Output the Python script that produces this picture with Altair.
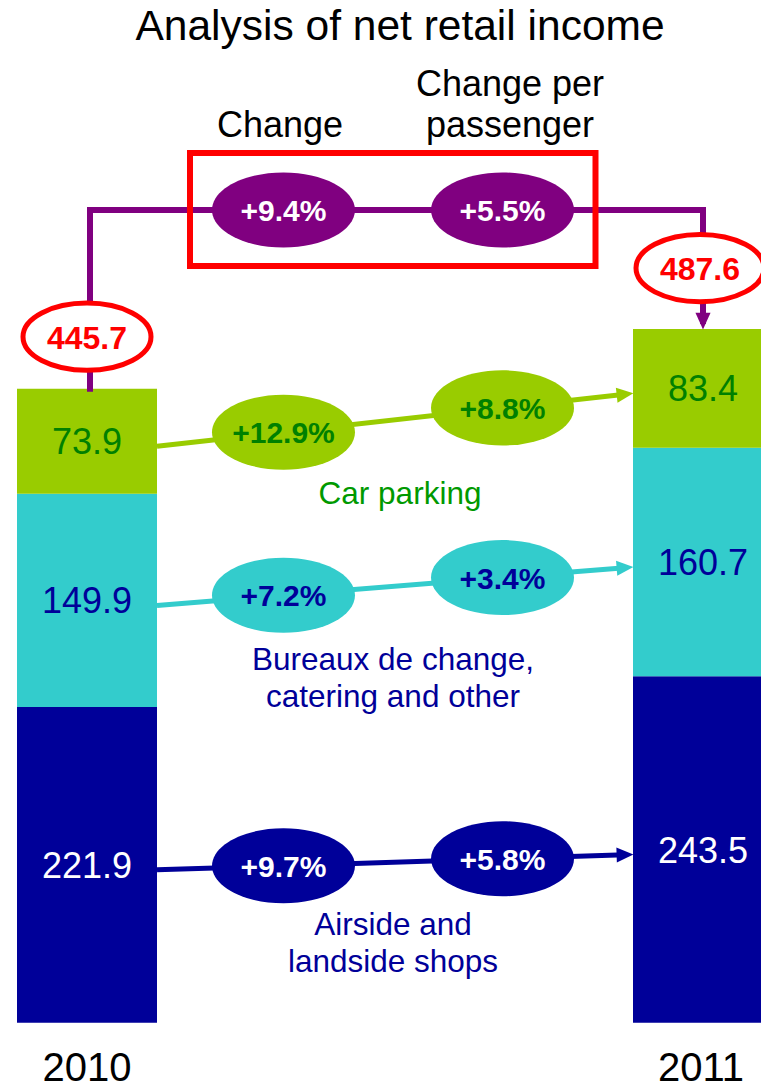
import math
import altair as alt
import pandas as pd

# ------------------------------------------------------------------ data
years = ["2010", "2011"]
categories = ["Airside and landside shops",
              "Bureaux de change, catering and other",
              "Car parking"]
values_2010 = [221.9, 149.9, 73.9]
values_2011 = [243.5, 160.7, 83.4]
totals = [445.7, 487.6]
change_pct = ["+9.7%", "+7.2%", "+12.9%"]
per_passenger_pct = ["+5.8%", "+3.4%", "+8.8%"]
total_change_pct = "+9.4%"
total_per_passenger_pct = "+5.5%"
category_label_lines = [["Airside and", "landside shops"],
                        ["Bureaux de change,", "catering and other"],
                        ["Car parking"]]
title_text = "Analysis of net retail income"
header_change = ["Change"]
header_per_passenger = ["Change per", "passenger"]

# ------------------------------------------------------------------ styles
fill_colors = ["#000099", "#33CCCC", "#99CC00"]
value_text_colors = ["#FFFFFF", "#000099", "#008000"]
ellipse_text_colors = ["#FFFFFF", "#000099", "#008000"]
label_colors = ["#000099", "#000099", "#009900"]
PURPLE = "#800080"
RED = "#FF0000"
FONT = "Liberation Sans"
ELLIPSE = "M-1,0A1,0.525,0,1,1,1,0A1,0.525,0,1,1,-1,0Z"
ARROW = "M-1,-0.9L1,0L-1,0.9Z"

# ------------------------------------------------------------------ layout (page pixels)
W, H = 753, 1075
K = 1.4225            # px per unit of income
ZERO_Y = 1022.7       # page y of value 0
BAR_CENTER = {"2010": 87, "2011": 703}
BAR_HALF = 70
CONNECT_X = [90, 703]
ELLIPSE_X = [283.5, 502.5]
ELL_W = 143
TOT_W = 128
ARROW_LEN = 16
TOP_LINE_Y = 210
LINE_DROP_PX = 5
TOTAL_OFFSET_PX = [52, 61]
TOTAL_X = [87, 700]
LABEL_X = [393, 393, 400]
LABEL_BASE = [[935, 972], [670, 707], [504]]
YEAR_BASE = 1081
YEAR_X = [87, 701]


def v(py):
    """page y -> value units"""
    return (ZERO_Y - py) / K


XS = alt.Scale(domain=[8, 8 + W], nice=False, zero=False)
YS = alt.Scale(domain=[v(8 + H), v(8)], nice=False, zero=False)


def X(f="x"):
    return alt.X(f"{f}:Q", scale=XS, axis=None)


def Y(f="y"):
    return alt.Y(f"{f}:Q", scale=YS, axis=None)


# ------------------------------------------------------------------ bars
series = {"2010": values_2010, "2011": values_2011}
bar_rows, val_rows = [], []
for yr in years:
    lo = 0.0
    for i, cat in enumerate(categories):
        hi = lo + series[yr][i]
        c = BAR_CENTER[yr]
        bar_rows.append(dict(year=yr, category=cat, y=lo, y2=hi,
                             x=c - BAR_HALF, x2=c + BAR_HALF))
        val_rows.append(dict(x=c, y=(lo + hi) / 2, text=f"{series[yr][i]:.1f}",
                             color=value_text_colors[i]))
        lo = hi
bars_df = pd.DataFrame(bar_rows)
vals_df = pd.DataFrame(val_rows)

bars = alt.Chart(bars_df).mark_rect(clip=True).encode(
    x=X(), x2="x2:Q", y=Y(), y2="y2:Q",
    color=alt.Color("category:N", scale=alt.Scale(domain=categories, range=fill_colors), legend=None),
)
vals = alt.Chart(vals_df).mark_text(font=FONT, fontSize=36, baseline="middle", dy=2).encode(
    x=X(), y=Y(), text="text:N", color=alt.Color("color:N", scale=None),
)

# ------------------------------------------------------------------ connecting arrows per category
line_rows, arrow_rows, ell_rows = [], [], []
start_x = BAR_CENTER["2010"] + BAR_HALF
tip_x = BAR_CENTER["2011"] - BAR_HALF
mids10 = [r["y"] for r in val_rows[:3]]
mids11 = [r["y"] for r in val_rows[3:]]
for i, cat in enumerate(categories):
    ys = mids10[i] - LINE_DROP_PX / K
    ye = mids11[i] - LINE_DROP_PX / K
    dx = tip_x - start_x
    dy_px = -(ye - ys) * K
    a = math.atan2(dy_px, dx)
    cx = tip_x - ARROW_LEN / 2 * math.cos(a)
    cy = ye + ARROW_LEN / 2 * math.sin(a) / K
    line_rows.append(dict(x=start_x, y=ys, x2=cx, y2=cy, color=fill_colors[i]))
    arrow_rows.append(dict(x=cx, y=cy, angle=math.degrees(a) % 360, color=fill_colors[i]))
    for ex, txt in zip(ELLIPSE_X, [change_pct[i], per_passenger_pct[i]]):
        t = (ex - start_x) / dx
        ell_rows.append(dict(x=ex, y=ys + t * (ye - ys), text=txt,
                             fill=fill_colors[i], tcolor=ellipse_text_colors[i]))

# purple total connector
top_v = v(TOP_LINE_Y)
tot_tip = totals[1]
tot_arrow_c = tot_tip + ARROW_LEN / 2 / K
conn_df = pd.DataFrame(dict(
    x=[CONNECT_X[0], CONNECT_X[0], CONNECT_X[1], CONNECT_X[1]],
    y=[totals[0], top_v, top_v, tot_arrow_c],
    order=[0, 1, 2, 3]))
arrow_rows.append(dict(x=CONNECT_X[1], y=tot_arrow_c, angle=90.0, color=PURPLE))
for ex, txt in zip(ELLIPSE_X, [total_change_pct, total_per_passenger_pct]):
    ell_rows.append(dict(x=ex, y=top_v, text=txt, fill=PURPLE, tcolor="#FFFFFF"))

lines_df = pd.DataFrame(line_rows)
arrows_df = pd.DataFrame(arrow_rows)
ell_df = pd.DataFrame(ell_rows)

conn = alt.Chart(conn_df).mark_line(color=PURPLE, strokeWidth=6, strokeCap="square").encode(
    x=X(), y=Y(), order="order:Q")
lines = alt.Chart(lines_df).mark_rule(strokeWidth=5).encode(
    x=X(), y=Y(), x2="x2:Q", y2="y2:Q", color=alt.Color("color:N", scale=None))
arrows = alt.Chart(arrows_df).mark_point(shape=ARROW, filled=True, opacity=1,
                                         size=ARROW_LEN ** 2 * 1.1).encode(
    x=X(), y=Y(), angle=alt.Angle("angle:Q", scale=None), color=alt.Color("color:N", scale=None))
ells = alt.Chart(ell_df).mark_point(shape=ELLIPSE, filled=True, opacity=1, size=ELL_W ** 2).encode(
    x=X(), y=Y(), color=alt.Color("fill:N", scale=None))
ell_text = alt.Chart(ell_df).mark_text(font=FONT, fontSize=30, fontWeight="bold",
                                       baseline="middle", dy=2).encode(
    x=X(), y=Y(), text="text:N", color=alt.Color("tcolor:N", scale=None))

# totals in red ellipses
tot_df = pd.DataFrame(dict(
    x=TOTAL_X,
    y=[totals[j] + TOTAL_OFFSET_PX[j] / K for j in range(2)],
    text=[f"{t:.1f}" for t in totals]))
tot_ell = alt.Chart(tot_df).mark_point(shape=ELLIPSE, filled=False, fill="#FFFFFF", fillOpacity=1,
                                       stroke=RED, strokeWidth=5, opacity=1, size=TOT_W ** 2).encode(
    x=X(), y=Y())
tot_text = alt.Chart(tot_df).mark_text(font=FONT, fontSize=32, fontWeight="bold", color=RED,
                                       baseline="middle", dy=2).encode(
    x=X(), y=Y(), text="text:N")

# red frame
frame_df = pd.DataFrame(dict(x=[190], x2=[595.5], y=[v(153)], y2=[v(266)]))
frame = alt.Chart(frame_df).mark_rect(fillOpacity=0, stroke=RED, strokeWidth=6).encode(
    x=X(), x2="x2:Q", y=Y(), y2="y2:Q")

# ------------------------------------------------------------------ texts
txt_rows = []
txt_rows.append(dict(x=400, y=v(40), text=title_text, size=42.5, color="#000000"))
txt_rows.append(dict(x=280, y=v(137), text=header_change[0], size=36, color="#000000"))
for line, b in zip(header_per_passenger, [96, 137]):
    txt_rows.append(dict(x=510, y=v(b), text=line, size=36, color="#000000"))
for i in range(3):
    for line, b in zip(category_label_lines[i], LABEL_BASE[i]):
        txt_rows.append(dict(x=LABEL_X[i], y=v(b), text=line, size=31.5, color=label_colors[i]))
for yr, xx in zip(years, YEAR_X):
    txt_rows.append(dict(x=xx, y=v(YEAR_BASE), text=yr, size=40, color="#000000"))
txt_df = pd.DataFrame(txt_rows)
texts = alt.Chart(txt_df).mark_text(font=FONT, baseline="alphabetic").encode(
    x=X(), y=Y(), text="text:N",
    size=alt.Size("size:Q", scale=None),
    color=alt.Color("color:N", scale=None))

chart = alt.layer(
    bars, vals, conn, lines, arrows, ells, ell_text, tot_ell, tot_text, frame, texts
).properties(
    width=W, height=H, padding=0,
    autosize=alt.AutoSizeParams(type="none"),
).configure_view(stroke=None)

chart.save("out.html", embed_options={"renderer": "svg", "actions": False})
